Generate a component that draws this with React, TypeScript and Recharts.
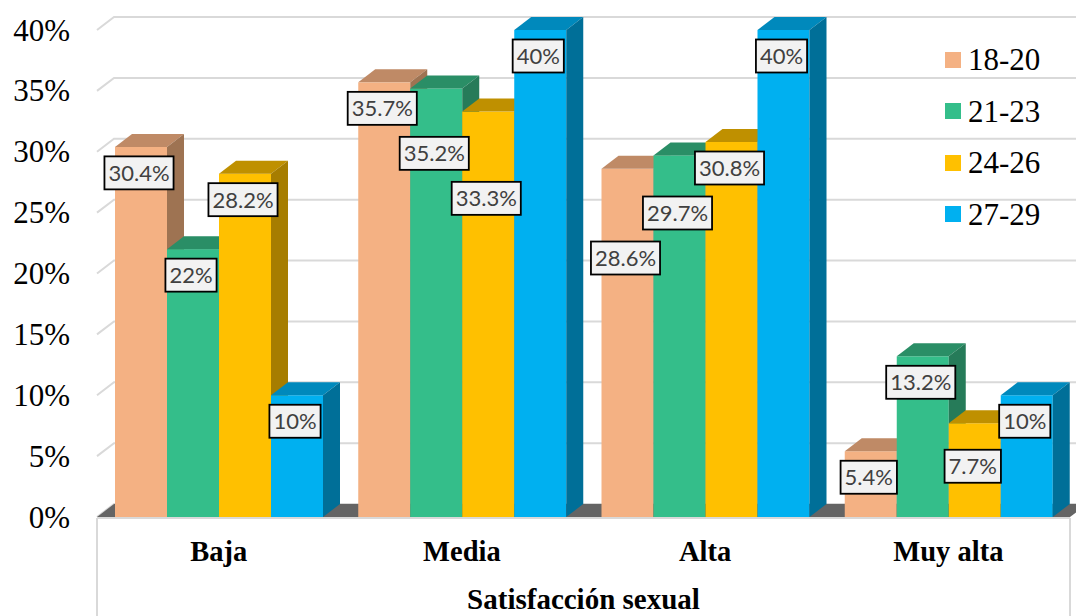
import React from "react";
import {
  BarChart,
  Bar,
  XAxis,
  YAxis,
  CartesianGrid,
  Legend,
  LabelList,
} from "recharts";

// data (percent)
const categories = ["Baja", "Media", "Alta", "Muy alta"];
const seriesNames = ["18-20", "21-23", "24-26", "27-29"];
const s1820 = [30.4, 35.7, 28.6, 5.4];
const s2123 = [22, 35.2, 29.7, 13.2];
const s2426 = [28.2, 33.3, 30.8, 7.7];
const s2729 = [10, 40, 40, 10];
const yTicks = [0, 5, 10, 15, 20, 25, 30, 35, 40];

const series = [s1820, s2123, s2426, s2729];
const keys = ["a", "b", "c", "d"];

const data = categories.map((name, i) => ({
  name,
  a: s1820[i],
  b: s2123[i],
  c: s2426[i],
  d: s2729[i],
}));

// front / top / side colours of each 3D bar
const palette = [
  { front: "#F4B183", top: "#BF8A66", side: "#9E7352" },
  { front: "#34BE8A", top: "#2A8E66", side: "#267B59" },
  { front: "#FFC000", top: "#BF9000", side: "#A67D00" },
  { front: "#00B0F0", top: "#0089BC", side: "#006F98" },
];

const DX = 17; // depth offset
const DY = 13;
const SERIF = "'Liberation Serif', 'Times New Roman', 'DejaVu Serif', serif";
const SANS = "Lato, 'Liberation Sans', sans-serif";
const LABEL_SIZE = 22;
const BOX_H = 33;
const GAP = 12;

const Bar3D = (props: any) => {
  const { x, y, width, height, colors } = props;
  if (x == null || !width || height == null) return null;
  const x2 = x + width;
  const yb = y + height;
  return (
    <g>
      <rect x={x} y={y} width={width} height={height} fill={colors.front} />
      <polygon
        points={`${x},${y} ${x2},${y} ${x2 + DX},${y - DY} ${x + DX},${y - DY}`}
        fill={colors.top}
      />
      <polygon
        points={`${x2},${y} ${x2 + DX},${y - DY} ${x2 + DX},${yb - DY} ${x2},${yb}`}
        fill={colors.side}
      />
    </g>
  );
};

let ctx: CanvasRenderingContext2D | null = null;
const measure = (t: string) => {
  if (!ctx) ctx = document.createElement("canvas").getContext("2d");
  if (ctx) {
    ctx.font = `${LABEL_SIZE}px Lato`;
    return ctx.measureText(t).width;
  }
  return t.length * LABEL_SIZE * 0.55;
};

// labels of one category, pushed down when they collide (like Excel does)
const layoutLabels = (ci: number, x0: number, barW: number, baseY: number, pxPer: number) => {
  const items = series.map((s, j) => {
    const v = s[ci];
    const text = `${v}%`;
    const top = baseY - v * pxPer;
    return { j, v, text, w: measure(text) + 8, cx: x0 + j * barW + barW / 2 - 2, cy: top + 26 };
  });
  const order = [...items].sort((a, b) => b.v - a.v || a.j - b.j);
  const placed: typeof items = [];
  for (const it of order) {
    let moved = true;
    while (moved) {
      moved = false;
      for (const p of placed) {
        if (
          Math.abs(it.cx - p.cx) < (it.w + p.w) / 2 &&
          Math.abs(it.cy - p.cy) < BOX_H + GAP
        ) {
          it.cy = p.cy + BOX_H + GAP;
          moved = true;
        }
      }
    }
    placed.push(it);
  }
  return items;
};

const GroupLabels = (props: any) => {
  const vb = props.viewBox || props;
  const { x, y, width, height } = vb;
  const idx = props.index;
  const value = s2729[idx];
  if (x == null || !value) return null;
  const items = layoutLabels(idx, x - 3 * width, width, y + height, height / value);
  return (
    <g>
      {items.map((it) => (
        <g key={it.j}>
          <rect
            x={it.cx - it.w / 2}
            y={it.cy - BOX_H / 2}
            width={it.w}
            height={BOX_H}
            fill="#F2F2F2"
            stroke="#000"
            strokeWidth={1.8}
          />
          <text
            x={it.cx}
            y={it.cy}
            dy="0.36em"
            textAnchor="middle"
            style={{ fontFamily: SANS }}
            fontSize={LABEL_SIZE}
            fill="#404040"
          >
            {it.text}
          </text>
        </g>
      ))}
    </g>
  );
};

// back-wall gridlines, plus the floor and the category box under the bottom one
const gridLine = (p: any) => {
  const { x1, y1, x2, key } = p;
  const line = (
    <path
      d={`M${x1},${y1} L${x1 + DX},${y1 - DY} L${x2 + DX + 20},${y1 - DY}`}
      stroke="#D9D9D9"
      strokeWidth={2}
      fill="none"
    />
  );
  if (Math.abs(y1 - (p.y + p.height)) < 1) {
    return (
      <g key={key}>
        {line}
        <polygon
          points={`${x1},${y1} ${x2},${y1} ${x2 + DX},${y1 - DY} ${x1 + DX},${y1 - DY}`}
          fill="#646464"
        />
        <path
          d={`M${x1},${y1 + 1} H${x2} M${x1},${y1 + 1} V616 M${x2},${y1 + 1} V616`}
          stroke="#D9D9D9"
          strokeWidth={2}
          fill="none"
        />
      </g>
    );
  }
  return <g key={key}>{line}</g>;
};

const LegendContent = ({ payload }: any) => (
  <div>
    {(payload || []).map((p: any) => (
      <div key={p.value} style={{ display: "flex", alignItems: "center", height: 51.5 }}>
        <span style={{ width: 16, height: 16, background: p.color, marginRight: 7 }} />
        <span style={{ fontFamily: SERIF, fontSize: 31, lineHeight: "31px", color: "#000" }}>
          {p.value}
        </span>
      </div>
    ))}
  </div>
);

const CategoryTick = ({ x, y, payload }: any) => (
  <text
    x={x}
    y={y + 44}
    textAnchor="middle"
    style={{ fontFamily: SERIF }}
    fontWeight="bold"
    fontSize={28.5}
    fill="#000"
  >
    {payload.value}
  </text>
);

const ValueTick = ({ x, y, payload }: any) => (
  <text
    x={x}
    y={y}
    dy="0.34em"
    textAnchor="end"
    style={{ fontFamily: SERIF }}
    fontSize={31}
    fill="#000"
  >
    {`${payload.value}%`}
  </text>
);

export default function App() {
  return (
    <div style={{ position: "absolute", left: 0, top: 0, width: 1076, height: 616, background: "#fff" }}>
      <BarChart
        width={1076}
        height={616}
        data={data}
        margin={{ top: 30, right: 6, bottom: 0, left: 0 }}
        barCategoryGap={18}
        barGap={0}
      >
        <CartesianGrid vertical={false} horizontal={gridLine} />
        <XAxis
          dataKey="name"
          height={99}
          axisLine={false}
          tickLine={false}
          tickSize={0}
          tickMargin={0}
          interval={0}
          tick={CategoryTick}
          label={{
            value: "Satisfacción sexual",
            position: "insideBottom",
            offset: 7,
            style: { fontFamily: SERIF },
            fontWeight: "bold",
            fontSize: 29,
            fill: "#000",
          }}
        />
        <YAxis
          domain={[0, 40]}
          ticks={yTicks}
          interval={0}
          width={97}
          axisLine={false}
          tickLine={false}
          tickSize={0}
          tickMargin={27}
          tick={ValueTick}
        />
        <Legend
          layout="vertical"
          align="center"
          verticalAlign="middle"
          content={LegendContent}
          wrapperStyle={{ left: 945, top: 34, width: 130 }}
        />
        {keys.map((k, j) => (
          <Bar
            key={k}
            dataKey={k}
            name={seriesNames[j]}
            fill={palette[j].front}
            isAnimationActive={false}
            shape={(p: any) => <Bar3D {...p} colors={palette[j]} />}
          >
            {j === keys.length - 1 && <LabelList dataKey={k} content={GroupLabels} />}
          </Bar>
        ))}
      </BarChart>
    </div>
  );
}
